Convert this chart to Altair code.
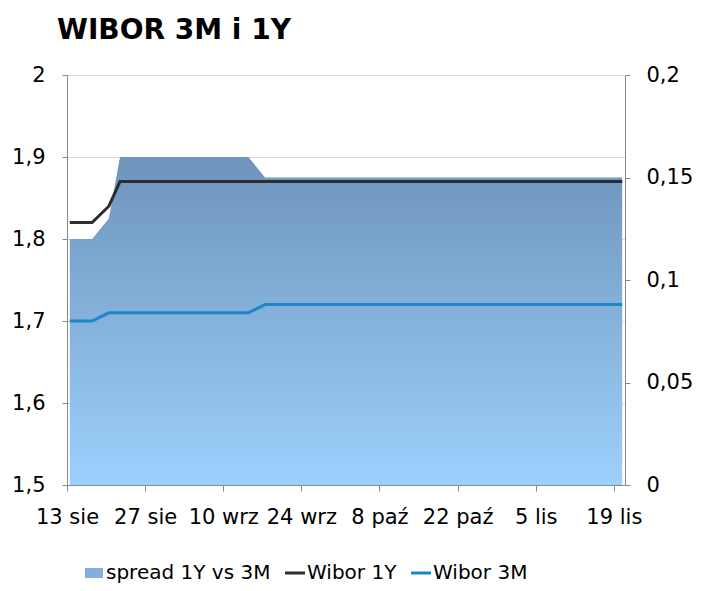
import altair as alt
import pandas as pd

# Data (WIBOR, 2018)
dates = [
    "2018-08-13T12:00:00", "2018-08-17T12:00:00", "2018-08-20T12:00:00",
    "2018-08-22T12:00:00", "2018-09-14T12:00:00", "2018-09-17T12:00:00",
    "2018-11-20T12:00:00",
]
wibor_1y = [1.82, 1.82, 1.84, 1.87, 1.87, 1.87, 1.87]
wibor_3m = [1.70, 1.70, 1.71, 1.71, 1.71, 1.72, 1.72]
spread = [0.12, 0.12, 0.13, 0.16, 0.16, 0.15, 0.15]

series_names = ["spread 1Y vs 3M", "Wibor 1Y", "Wibor 3M"]
series_colors = ["#84afdc", "#2a2d32", "#1b87c9"]
legend_shapes = ["M-0.9,-0.5H0.9V0.5H-0.9Z", "M-1,-0.15H1V0.15H-1Z", "M-1,-0.15H1V0.15H-1Z"]
line_names = ["Wibor 1Y", "Wibor 3M"]
line_colors = ["#2a2d32", "#1b87c9"]

left_ticks = [1.5, 1.6, 1.7, 1.8, 1.9, 2.0]
right_ticks = [0, 0.05, 0.1, 0.15, 0.2]
x_tick_dates = [(2018, 8, 13), (2018, 8, 27), (2018, 9, 10), (2018, 9, 24),
                (2018, 10, 8), (2018, 10, 22), (2018, 11, 5), (2018, 11, 19)]

df = pd.DataFrame({"date": dates, "Wibor 1Y": wibor_1y, "Wibor 3M": wibor_3m,
                   "spread": spread})

FONT = "DejaVu Sans"
comma_expr = "replace(format(datum.value, '~g'), '.', ',')"
month_expr = ("date(datum.value) + ' ' + ['sty','lut','mar','kwi','maj','cze','lip',"
              "'sie','wrz','paź','lis','gru'][month(datum.value)]")

x_enc = alt.X(
    "date:T",
    title=None,
    scale=alt.Scale(domain=[alt.DateTime(year=2018, month=8, date=13),
                            alt.DateTime(year=2018, month=11, date=21)]),
    axis=alt.Axis(
        values=[alt.DateTime(year=y, month=m, date=d) for (y, m, d) in x_tick_dates],
        labelExpr=month_expr, grid=False, tickSize=6, labelPadding=15,
        labelAngle=0, labelOverlap=False, labelFlush=False,
    ),
)

grad = alt.Gradient(
    gradient="linear",
    stops=[alt.GradientStop(color="#6e94bb", offset=0),
           alt.GradientStop(color="#9dd0fd", offset=1)],
    x1=0, x2=0, y1=0, y2=1,
)

area = alt.Chart(df).mark_area(color=grad, interpolate="linear").encode(
    x=x_enc,
    y=alt.Y("spread:Q", title=None,
            scale=alt.Scale(domain=[0, 0.2], nice=False),
            axis=alt.Axis(orient="right", values=right_ticks, labelExpr=comma_expr,
                          grid=False, tickSize=5, labelPadding=16)),
)

legend = alt.Legend(
    title=None, orient="none", direction="horizontal", legendX=17, legendY=488,
    labelFont=FONT, labelFontSize=20, labelColor="black", labelOffset=2,
    labelLimit=400, columnPadding=14, symbolSize=400, symbolStrokeWidth=0,
    padding=0, symbolOpacity=1,
)

folded = alt.Chart(df).transform_fold(line_names, as_=["series", "value"])

lines = folded.mark_line(strokeWidth=3).encode(
    x=x_enc,
    y=alt.Y("value:Q", title=None,
            scale=alt.Scale(domain=[1.5, 2.0], nice=False),
            axis=alt.Axis(orient="left", values=left_ticks, labelExpr=comma_expr,
                          grid=True, gridColor="#d9d9d9", tickSize=5, labelPadding=17)),
    stroke=alt.Stroke("series:N", scale=alt.Scale(domain=line_names, range=line_colors),
                      legend=None),
)

legend_keys = folded.transform_filter("false").mark_point(filled=True).encode(
    color=alt.Color("series:N", scale=alt.Scale(domain=series_names, range=series_colors),
                    legend=legend),
    shape=alt.Shape("series:N", scale=alt.Scale(domain=series_names, range=legend_shapes),
                    legend=legend),
)

chart = alt.layer(area, alt.layer(lines, legend_keys)).resolve_scale(y="independent").properties(
    width=558, height=410,
    title=alt.TitleParams("WIBOR 3M i 1Y", anchor="start", frame="group",
                          font=FONT, fontSize=28, fontWeight="bold", color="black",
                          dx=-10, dy=30, offset=27, baseline="alphabetic"),
    autosize=alt.AutoSizeParams(type="none"),
    padding={"left": 59, "top": 67, "right": 69, "bottom": 98},
).configure_view(stroke=None).configure_axis(
    labelFont=FONT, labelFontSize=21, labelColor="black",
    domainColor="#868686", tickColor="#868686", domainWidth=1,
)

chart.save("out.html", embed_options={"renderer": "svg", "actions": False})
